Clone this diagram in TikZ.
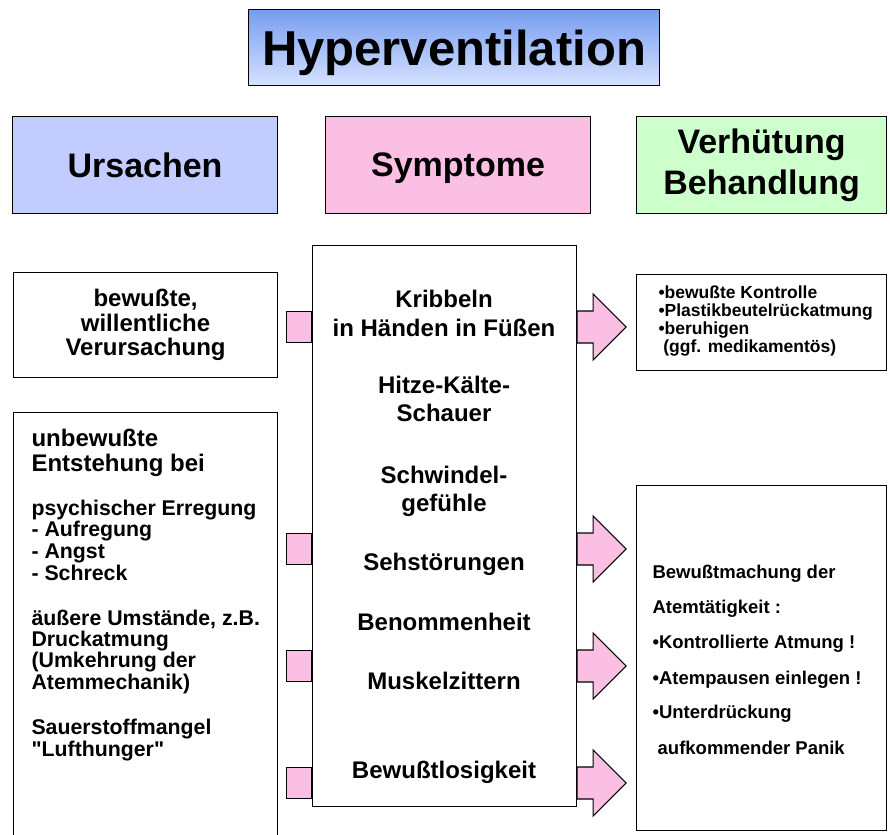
\documentclass[tikz,border=0pt]{standalone}
\usepackage{fontspec}
\setmainfont{Liberation Sans}
\newfontfamily\straightquote{Liberation Sans}
\usetikzlibrary{positioning}
\definecolor{causeblue}{RGB}{195,204,255}
\definecolor{sympink}{RGB}{251,191,227}
\definecolor{curegreen}{RGB}{204,255,204}
\definecolor{titletop}{RGB}{118,156,240}
\definecolor{titlebot}{RGB}{214,226,255}

\begin{document}
\begin{tikzpicture}[x=1pt, y=-1pt,
  box/.style={draw, line width=1.1pt, inner sep=0pt, anchor=north west},
  headbox/.style={box, align=center, font=\fontsize{34}{41}\selectfont\bfseries},
  symtext/.style={anchor=base, font=\fontsize{24}{28}\selectfont\bfseries},
  causebig/.style={anchor=base west, font=\fontsize{24}{25}\selectfont\bfseries},
  causetext/.style={anchor=base west, font=\fontsize{21.3}{22}\selectfont\bfseries},
  curetext/.style={anchor=base west, font=\fontsize{18.5}{22}\selectfont\bfseries},
  stub/.style={draw, line width=1.1pt, fill=sympink, inner sep=0pt,
    minimum width=25pt, minimum height=31pt, anchor=east},
  pics/outarrow/.style={code={
    \draw[line width=1.1pt, fill=sympink]
      (0,-16) -- (16,-16) -- (16,-33) -- (49,0) -- (16,33) -- (16,16) -- (0,16) -- cycle;}}]
  \useasboundingbox (0,0) rectangle (890,834);
  % title
  \node[box, minimum width=411pt, minimum height=76pt, top color=titletop, bottom color=titlebot,
    font=\fontsize{49}{49}\selectfont\bfseries, text height=36pt, text depth=0pt] (title) at (248,9) {Hyperventilation};
  % column heads
  \node[headbox, fill=causeblue, minimum width=265pt, minimum height=97pt] (causes) at (12,116) {Ursachen};
  \node[headbox, fill=sympink, minimum width=265pt, minimum height=97pt, text depth=0pt] (symptoms) at (325,116) {Symptome};
  \node[headbox, fill=curegreen, minimum width=250pt, minimum height=97pt] (cures) at (636,116) {Verhütung\\Behandlung};
  % causes
  \node[box, minimum width=264pt, minimum height=105pt, align=center,
    font=\fontsize{24}{24.5}\selectfont\bfseries] (wilful) at (13,272) {bewußte,\\willentliche\\Verursachung};
  \node[box, minimum width=264pt, minimum height=430pt] (unwilful) at (13,412) {};
  \node[causebig] (u1) at (28,446) {unbewußte};
  \node[causebig] (u2) at (28,471) {Entstehung bei};
  \node[causetext] (u3) at (28,515) {psychischer Erregung};
  \node[causetext] (u4) at (28,536) {- Aufregung};
  \node[causetext] (u5) at (28,558) {- Angst};
  \node[causetext] (u6) at (28,580) {- Schreck};
  \node[causetext] (u7) at (28,625) {äußere Umstände, z.B.};
  \node[causetext] (u8) at (28,646) {Druckatmung};
  \node[causetext] (u9) at (28,667) {(Umkehrung der};
  \node[causetext] (u10) at (28,689) {Atemmechanik)};
  \node[causetext] (u11) at (28,734) {Sauerstoffmangel};
  \node[causetext] (u12) at (28,756) {\straightquote "Lufthunger"};
  % symptoms
  \node[box, minimum width=264pt, minimum height=561pt] (symp) at (312,245) {};
  \node[symtext] (s1) at (444,307) {Kribbeln};
  \node[symtext] (s2) at (444,336) {in Händen in Füßen};
  \node[symtext] (s3) at (444,393) {Hitze-Kälte-};
  \node[symtext] (s4) at (444,421) {Schauer};
  \node[symtext] (s5) at (444,483) {Schwindel-};
  \node[symtext] (s6) at (444,511) {gefühle};
  \node[symtext] (s7) at (444,570) {Sehstörungen};
  \node[symtext] (s8) at (444,630) {Benommenheit};
  \node[symtext] (s9) at (444,689) {Muskelzittern};
  \node[symtext] (s10) at (444,778) {Bewußtlosigkeit};
  % prevention / treatment
  \node[box, minimum width=250pt, minimum height=96pt] (control) at (636,274) {};
  \node[anchor=west, align=left, font=\fontsize{17.5}{18}\selectfont\bfseries] (controltext) at (655,321)
    {•bewußte Kontrolle\\•Plastikbeutelrückatmung\\•beruhigen\\\ (ggf. medikamentös)};
  \node[box, minimum width=250pt, minimum height=345pt] (breathing) at (636,485) {};
  \node[curetext] (b1) at (649,578) {Bewußtmachung der};
  \node[curetext] (b2) at (649,613) {Atemtätigkeit :};
  \node[curetext] (b3) at (649,648) {•Kontrollierte Atmung !};
  \node[curetext] (b4) at (649,684) {•Atempausen einlegen !};
  \node[curetext] (b5) at (649,718) {•Unterdrückung};
  \node[curetext] (b6) at (649,754) {\ aufkommender Panik};
  % connectors into and out of the symptom box
  \node[stub] (sq1) at (symp.west |- 0,327) {};
  \node[stub] (sq2) at (symp.west |- 0,549) {};
  \node[stub] (sq3) at (symp.west |- 0,666) {};
  \node[stub] (sq4) at (symp.west |- 0,783) {};
  \pic at (symp.east |- sq1) {outarrow};
  \pic at (symp.east |- sq2) {outarrow};
  \pic at (symp.east |- sq3) {outarrow};
  \pic at (symp.east |- sq4) {outarrow};
\end{tikzpicture}
\end{document}
